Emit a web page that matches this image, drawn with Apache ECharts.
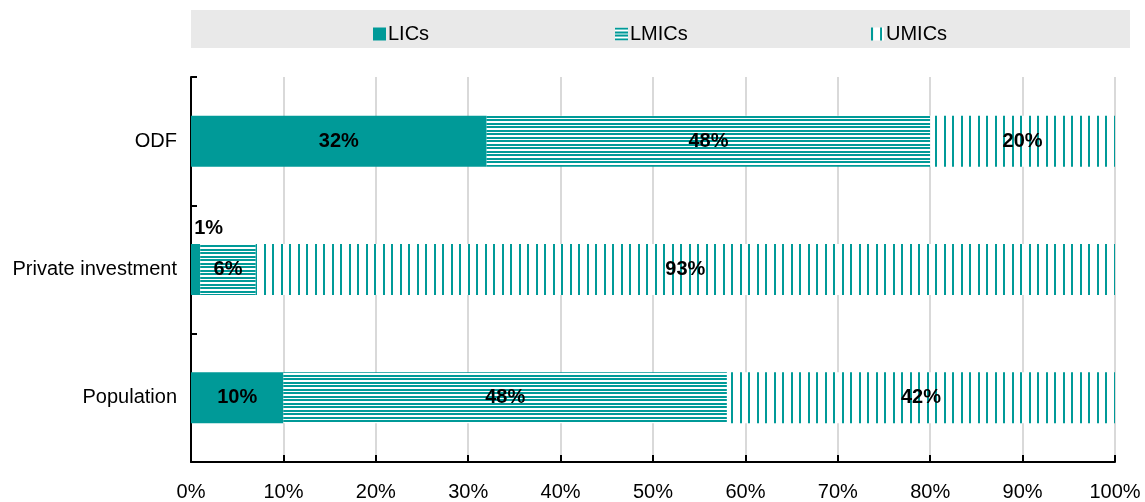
<!DOCTYPE html>
<html>
<head>
<meta charset="utf-8">
<script src="https://cdn.jsdelivr.net/npm/echarts@6/dist/echarts.min.js"></script>
<style>
  html, body { margin: 0; padding: 0; background: #fff; }
  #chart { width: 1145px; height: 502px; }
</style>
</head>
<body>
<div id="chart"></div>
<script>
// Share of each income group, by flow
const categories = ['ODF', 'Private investment', 'Population'];
const seriesNames = ['LICs', 'LMICs', 'UMICs'];
const lics = [32, 1, 10];
const lmics = [48, 6, 48];
const umics = [20, 93, 42];
const tickLabels = ['0%', '10%', '20%', '30%', '40%', '50%', '60%', '70%', '80%', '90%', '100%'];

const TEAL = '#009a98';
const FONT = "'Liberation Sans Narrow', 'Arial Narrow', 'Liberation Sans', sans-serif";

// Horizontal stripe fill
function hStripes() {
  const c = document.createElement('canvas');
  c.width = 8; c.height = 7;
  const g = c.getContext('2d');
  g.fillStyle = '#ffffff';
  g.fillRect(0, 0, 8, 7);
  g.fillStyle = TEAL;
  g.fillRect(0, 0, 8, 2);
  g.fillRect(0, 4, 8, 2);
  return c;
}
// Vertical stripe fill
function vStripes() {
  const c = document.createElement('canvas');
  c.width = 17; c.height = 8;
  const g = c.getContext('2d');
  g.fillStyle = '#ffffff';
  g.fillRect(0, 0, 17, 8);
  g.fillStyle = TEAL;
  g.fillRect(0, 0, 2, 8);
  g.fillRect(9, 0, 2, 8);
  return c;
}

const fills = [
  TEAL,
  { image: hStripes(), repeat: 'repeat' },
  { image: vStripes(), repeat: 'repeat' }
];
const values = [lics, lmics, umics];
const legendLeft = [368, 610, 866];

const chart = echarts.init(document.getElementById('chart'), null, { renderer: 'canvas' });

const series = seriesNames.map((name, si) => ({
  name: name,
  type: 'bar',
  stack: 'total',
  barWidth: 51,
  itemStyle: { color: fills[si] },
  label: {
    show: true,
    position: 'inside',
    formatter: p => p.value + '%',
    color: '#000',
    fontFamily: FONT,
    fontWeight: 'bold',
    fontSize: 20
  },
  data: values[si].map((v, i) => {
    // very thin segment: put its label above the bar
    if (si === 0 && v < 3) {
      return { value: v, label: { position: 'top', distance: 6, offset: [13, 0] } };
    }
    return v;
  })
}));

chart.setOption({
  animation: false,
  backgroundColor: '#ffffff',
  graphic: [{
    type: 'rect',
    left: 191, top: 10,
    shape: { width: 939, height: 38 },
    style: { fill: '#e9e9e9' },
    z: -1
  }],
  legend: seriesNames.map((name, i) => ({
    left: legendLeft[i],
    top: 19,
    itemWidth: 13,
    itemHeight: 13,
    icon: 'rect',
    textStyle: { fontFamily: FONT, fontSize: 20, color: '#000', padding: [0, 0, 0, -3] },
    data: [name]
  })),
  grid: { left: 191, right: 30, top: 77, bottom: 40, containLabel: false },
  xAxis: {
    type: 'value',
    min: 0,
    max: 100,
    interval: 10,
    axisLine: { show: true, lineStyle: { color: '#000', width: 2 } },
    axisTick: { show: true, inside: true, length: 7, lineStyle: { color: '#000', width: 2 } },
    splitLine: { show: true, lineStyle: { color: '#d9d9d9', width: 2 } },
    axisLabel: {
      margin: 20,
      fontFamily: FONT,
      fontSize: 20,
      color: '#000',
      formatter: v => tickLabels[Math.round(v / 10)]
    }
  },
  yAxis: {
    type: 'category',
    inverse: true,
    data: categories,
    axisLine: { show: true, lineStyle: { color: '#000', width: 2 } },
    axisTick: { show: true, inside: true, length: 6, lineStyle: { color: '#000', width: 2 } },
    axisLabel: {
      margin: 14,
      fontFamily: FONT,
      fontSize: 20,
      color: '#000'
    }
  },
  series: series
});
</script>
</body>
</html>
